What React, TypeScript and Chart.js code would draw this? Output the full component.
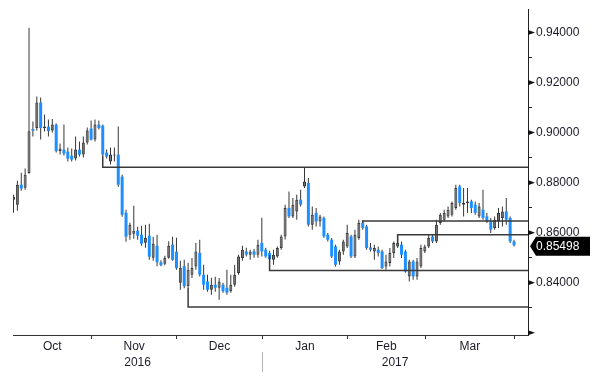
import React, { useEffect, useRef } from "react";
import { Chart, registerables } from "chart.js";

Chart.register(...registerables);

// Daily EUR/GBP-style candles, 3 Oct 2016 .. 31 Mar 2017 (weekdays)
const OPEN = [
  0.8732, 0.8712, 0.8792, 0.8780, 0.8839, 0.9014, 0.9018, 0.9120, 0.9018, 0.9024,
  0.9008, 0.9032, 0.8926, 0.8932, 0.8924, 0.8908, 0.8896, 0.8932, 0.8912, 0.8960,
  0.9016, 0.8972, 0.9032, 0.9028, 0.8920, 0.8884, 0.8908, 0.8912, 0.8824, 0.8680,
  0.8592, 0.8596, 0.8608, 0.8592, 0.8560, 0.8588, 0.8500, 0.8548, 0.8482, 0.8476,
  0.8500, 0.8552, 0.8524, 0.8400, 0.8466, 0.8386, 0.8432, 0.8465, 0.8519, 0.8432,
  0.8405, 0.8372, 0.8392, 0.8380, 0.8392, 0.8380, 0.8366, 0.8392, 0.8439, 0.8499,
  0.8525, 0.8512, 0.8525, 0.8512, 0.8559, 0.8532, 0.8519, 0.8492, 0.8505, 0.8539,
  0.8585, 0.8699, 0.8665, 0.8685, 0.8732, 0.8785, 0.8799, 0.8632, 0.8679, 0.8645,
  0.8659, 0.8592, 0.8572, 0.8545, 0.8485, 0.8525, 0.8545, 0.8585, 0.8505, 0.8579,
  0.8639, 0.8625, 0.8541, 0.8525, 0.8532, 0.8525, 0.8465, 0.8479, 0.8519, 0.8545,
  0.8552, 0.8525, 0.8425, 0.8485, 0.8425, 0.8465, 0.8525, 0.8545, 0.8585, 0.8565,
  0.8639, 0.8652, 0.8665, 0.8672, 0.8699, 0.8785, 0.8712, 0.8719, 0.8725, 0.8712,
  0.8665, 0.8692, 0.8665, 0.8645, 0.8619, 0.8645, 0.8659, 0.8685, 0.8659, 0.8565,
];
const HIGH = [
  0.8752, 0.8808, 0.8840, 0.8856, 0.9419, 0.9044, 0.9144, 0.9140, 0.9072, 0.9052,
  0.9054, 0.9036, 0.8956, 0.9032, 0.8940, 0.8936, 0.8984, 0.8964, 0.8984, 0.9020,
  0.9048, 0.9052, 0.9048, 0.9032, 0.8932, 0.8940, 0.8940, 0.9024, 0.8832, 0.8692,
  0.8640, 0.8708, 0.8624, 0.8628, 0.8632, 0.8636, 0.8584, 0.8592, 0.8490, 0.8508,
  0.8566, 0.8584, 0.8580, 0.8488, 0.8492, 0.8480, 0.8499, 0.8559, 0.8572, 0.8472,
  0.8432, 0.8420, 0.8424, 0.8419, 0.8400, 0.8452, 0.8432, 0.8472, 0.8512, 0.8548,
  0.8540, 0.8532, 0.8535, 0.8572, 0.8660, 0.8540, 0.8528, 0.8532, 0.8545, 0.8592,
  0.8712, 0.8765, 0.8739, 0.8752, 0.8772, 0.8861, 0.8819, 0.8705, 0.8699, 0.8672,
  0.8665, 0.8599, 0.8579, 0.8552, 0.8532, 0.8572, 0.8632, 0.8592, 0.8612, 0.8652,
  0.8648, 0.8632, 0.8559, 0.8552, 0.8545, 0.8532, 0.8512, 0.8539, 0.8565, 0.8588,
  0.8565, 0.8532, 0.8492, 0.8492, 0.8499, 0.8552, 0.8552, 0.8592, 0.8592, 0.8652,
  0.8679, 0.8692, 0.8705, 0.8725, 0.8792, 0.8792, 0.8779, 0.8779, 0.8732, 0.8725,
  0.8719, 0.8772, 0.8679, 0.8659, 0.8665, 0.8699, 0.8705, 0.8739, 0.8665, 0.8572,
];
const LOW = [
  0.8680, 0.8688, 0.8768, 0.8772, 0.8836, 0.8984, 0.9008, 0.8972, 0.9004, 0.8984,
  0.9000, 0.8920, 0.8912, 0.8908, 0.8884, 0.8884, 0.8888, 0.8904, 0.8900, 0.8952,
  0.8968, 0.8964, 0.9012, 0.8908, 0.8896, 0.8872, 0.8884, 0.8784, 0.8664, 0.8564,
  0.8572, 0.8576, 0.8572, 0.8548, 0.8540, 0.8492, 0.8488, 0.8466, 0.8466, 0.8470,
  0.8496, 0.8488, 0.8452, 0.8372, 0.8378, 0.8380, 0.8419, 0.8452, 0.8425, 0.8372,
  0.8364, 0.8352, 0.8364, 0.8332, 0.8360, 0.8352, 0.8360, 0.8384, 0.8432, 0.8488,
  0.8505, 0.8492, 0.8500, 0.8500, 0.8505, 0.8500, 0.8488, 0.8472, 0.8500, 0.8532,
  0.8573, 0.8659, 0.8659, 0.8652, 0.8705, 0.8779, 0.8625, 0.8612, 0.8625, 0.8625,
  0.8580, 0.8565, 0.8499, 0.8465, 0.8472, 0.8512, 0.8539, 0.8499, 0.8499, 0.8572,
  0.8612, 0.8532, 0.8525, 0.8492, 0.8505, 0.8455, 0.8452, 0.8465, 0.8499, 0.8539,
  0.8499, 0.8440, 0.8405, 0.8412, 0.8412, 0.8459, 0.8519, 0.8539, 0.8559, 0.8559,
  0.8632, 0.8645, 0.8659, 0.8665, 0.8692, 0.8705, 0.8665, 0.8679, 0.8679, 0.8672,
  0.8659, 0.8652, 0.8639, 0.8599, 0.8612, 0.8619, 0.8625, 0.8632, 0.8559, 0.8545,
];
const CLOSE = [
  0.8744, 0.8792, 0.8776, 0.8832, 0.9005, 0.9008, 0.9120, 0.9018, 0.9024, 0.9006,
  0.9032, 0.8926, 0.8936, 0.8916, 0.8896, 0.8892, 0.8932, 0.8912, 0.8960, 0.9008,
  0.8972, 0.9032, 0.9018, 0.8912, 0.8904, 0.8912, 0.8912, 0.8792, 0.8672, 0.8584,
  0.8632, 0.8608, 0.8588, 0.8556, 0.8580, 0.8504, 0.8556, 0.8482, 0.8470, 0.8500,
  0.8548, 0.8492, 0.8458, 0.8460, 0.8386, 0.8452, 0.8459, 0.8525, 0.8432, 0.8392,
  0.8372, 0.8392, 0.8380, 0.8405, 0.8366, 0.8360, 0.8392, 0.8432, 0.8505, 0.8532,
  0.8512, 0.8525, 0.8512, 0.8552, 0.8525, 0.8505, 0.8494, 0.8512, 0.8539, 0.8585,
  0.8699, 0.8665, 0.8712, 0.8732, 0.8712, 0.8805, 0.8632, 0.8672, 0.8645, 0.8665,
  0.8585, 0.8572, 0.8505, 0.8472, 0.8525, 0.8565, 0.8599, 0.8505, 0.8592, 0.8639,
  0.8619, 0.8539, 0.8532, 0.8539, 0.8519, 0.8459, 0.8485, 0.8519, 0.8559, 0.8559,
  0.8512, 0.8445, 0.8485, 0.8425, 0.8485, 0.8539, 0.8545, 0.8579, 0.8565, 0.8632,
  0.8672, 0.8679, 0.8692, 0.8719, 0.8779, 0.8719, 0.8719, 0.8725, 0.8699, 0.8679,
  0.8705, 0.8659, 0.8645, 0.8612, 0.8652, 0.8679, 0.8685, 0.8652, 0.8565, 0.85498,
];

const MONTHS = ["Oct", "Nov", "Dec", "Jan", "Feb", "Mar"];
const MONTH_FIRST_BAR = [0, 21, 43, 65, 87, 107, 130];
const YEARS = ["2016", "2017"];
const YEAR_FIRST_BAR = [0, 65];
const Y_TICKS = [0.82, 0.83, 0.84, 0.85, 0.86, 0.87, 0.88, 0.89, 0.9, 0.91, 0.92, 0.93, 0.94];
const Y_MAJOR = [0.82, 0.84, 0.86, 0.88, 0.9, 0.92, 0.94];
const Y_LABELLED = [0.84, 0.86, 0.88, 0.9, 0.92, 0.94];
const LEVELS = [0.8861, 0.8303, 0.8449, 0.8647, 0.8592];
const LEVEL_FROM_BAR = [23, 45, 66, 90, 99];
const LEVEL_ANCHOR = [0.8908, 0.838, 0.8511, 0.8639, 0.8559];
const LAST_PRICE = 0.85498;

const X_MIN = -0.13;
const X_MAX = 132.6;
const Y_MIN = 0.8191;
const Y_MAX = 0.9494;
const BOUNDARY_SHIFT = -0.9;
const FONT = "'Liberation Sans', Arial, sans-serif";
const TEXT = "#1c1c28";
const BLUE = "#1e8fff";
const GRAY = "#767676";
const DARK = "#363636";

const boundary = (bar: number) => bar + BOUNDARY_SHIFT;

type XT = { value: number; label: string; mark: boolean };

const monthTicks: XT[] = [];
for (let k = 1; k < MONTH_FIRST_BAR.length; k++) {
  monthTicks.push({ value: boundary(MONTH_FIRST_BAR[k]), label: "", mark: true });
}
MONTHS.forEach((m, k) => {
  const a = k === 0 ? X_MIN : boundary(MONTH_FIRST_BAR[k]);
  const b = boundary(MONTH_FIRST_BAR[k + 1]);
  monthTicks.push({ value: (a + b) / 2, label: m, mark: false });
});
monthTicks.sort((p, q) => p.value - q.value);

const yearTicks: XT[] = [];
YEARS.forEach((yr, k) => {
  const a = k === 0 ? X_MIN : boundary(YEAR_FIRST_BAR[k]);
  const b = k === YEARS.length - 1 ? X_MAX : boundary(YEAR_FIRST_BAR[k + 1]);
  yearTicks.push({ value: (a + b) / 2, label: yr, mark: false });
  if (k > 0) yearTicks.push({ value: a, label: "", mark: true });
});
yearTicks.sort((p, q) => p.value - q.value);

const axisDecor = {
  id: "axisDecor",
  afterDraw(chart: any) {
    const { ctx, chartArea } = chart;
    const y = chart.scales.y;
    const r = chartArea.right;
    ctx.save();
    ctx.fillStyle = "#111";
    Y_MAJOR.forEach((v) => {
      const py = y.getPixelForValue(v);
      ctx.beginPath();
      ctx.moveTo(r, py - 2.6);
      ctx.lineTo(r + 7, py);
      ctx.lineTo(r, py + 2.6);
      ctx.closePath();
      ctx.fill();
    });
    const py = y.getPixelForValue(LAST_PRICE);
    ctx.fillStyle = "#000";
    ctx.beginPath();
    ctx.moveTo(r + 2, py + 1);
    ctx.lineTo(r + 8, py - 8.5);
    ctx.lineTo(r + 62, py - 8.5);
    ctx.lineTo(r + 62, py + 10.5);
    ctx.lineTo(r + 8, py + 10.5);
    ctx.closePath();
    ctx.fill();
    ctx.fillStyle = "#fff";
    ctx.font = `12px ${FONT}`;
    ctx.textBaseline = "middle";
    ctx.textAlign = "left";
    ctx.fillText(LAST_PRICE.toFixed(5), r + 8, py + 1.5);
    ctx.restore();
  },
};

export default function App() {
  const ref = useRef<HTMLCanvasElement>(null);

  useEffect(() => {
    const up = CLOSE.map((c, i) => c >= OPEN[i]);
    const wickData = CLOSE.map((_, i) => ({ x: i, y: [LOW[i], HIGH[i]] }));
    const bodyData = CLOSE.map((c, i) => ({
      x: i,
      y: [Math.min(OPEN[i], c), Math.max(OPEN[i], c)],
    }));
    const levelSets = LEVELS.map((lv, k) => ({
      type: "line" as const,
      data: [
        { x: LEVEL_FROM_BAR[k], y: LEVEL_ANCHOR[k] },
        { x: LEVEL_FROM_BAR[k], y: lv },
        { x: X_MAX, y: lv },
      ],
      borderColor: "#3a3a3a",
      borderWidth: 1.5,
      pointRadius: 0,
      tension: 0,
      fill: false,
      order: 0,
    }));

    const chart = new Chart(ref.current as HTMLCanvasElement, {
      type: "bar",
      data: {
        datasets: [
          ...levelSets,
          {
            type: "bar",
            data: bodyData as any,
            backgroundColor: up.map((u) => (u ? GRAY : BLUE)),
            borderColor: up.map((u) => (u ? DARK : BLUE)),
            borderWidth: up.map((u) => (u ? 1 : 0)),
            borderSkipped: false,
            barThickness: 3,
            minBarLength: 1,
            grouped: false,
            inflateAmount: 0,
            order: 1,
          },
          {
            type: "bar",
            data: wickData as any,
            backgroundColor: DARK,
            borderWidth: 0,
            barThickness: 1,
            grouped: false,
            inflateAmount: 0,
            order: 2,
          },
        ] as any,
      },
      options: {
        responsive: false,
        animation: false,
        devicePixelRatio: 1,
        layout: { padding: { left: 13, top: 9, right: 0, bottom: 0 } },
        plugins: { legend: { display: false }, tooltip: { enabled: false } },
        scales: {
          x: {
            type: "linear",
            position: "bottom",
            min: X_MIN,
            max: X_MAX,
            offset: false,
            weight: 0,
            afterBuildTicks: (s: any) => {
              s.ticks = monthTicks.map((t) => ({ value: t.value }));
            },
            afterFit: (s: any) => {
              s.height = 17;
              s.paddingLeft = 0;
              s.paddingRight = 0;
            },
            ticks: {
              autoSkip: false,
              maxRotation: 0,
              minRotation: 0,
              padding: 0,
              color: TEXT,
              font: { family: FONT, size: 12 },
              callback: (_v: any, i: number) => monthTicks[i].label,
            },
            grid: {
              display: true,
              drawOnChartArea: false,
              drawTicks: true,
              tickLength: 4,
              offset: false,
              lineWidth: 1,
              color: (c: any) => (monthTicks[c.index] && monthTicks[c.index].mark ? "#333" : "rgba(0,0,0,0)"),
            },
            border: { display: true, color: "#333", width: 1 },
          },
          x2: {
            type: "linear",
            axis: "x",
            position: "bottom",
            min: X_MIN,
            max: X_MAX,
            offset: false,
            weight: 1,
            afterBuildTicks: (s: any) => {
              s.ticks = yearTicks.map((t) => ({ value: t.value }));
            },
            afterFit: (s: any) => {
              s.height = 29;
              s.paddingLeft = 0;
              s.paddingRight = 0;
            },
            ticks: {
              autoSkip: false,
              maxRotation: 0,
              minRotation: 0,
              padding: -16.2,
              color: TEXT,
              font: { family: FONT, size: 12 },
              callback: (_v: any, i: number) => yearTicks[i].label,
            },
            grid: {
              display: true,
              drawOnChartArea: false,
              drawTicks: true,
              tickLength: 20,
              offset: false,
              lineWidth: 1,
              color: (c: any) => (yearTicks[c.index] && yearTicks[c.index].mark ? "#b4b4b4" : "rgba(0,0,0,0)"),
            },
            border: { display: false },
          },
          y: {
            type: "linear",
            position: "right",
            min: Y_MIN,
            max: Y_MAX,
            afterBuildTicks: (s: any) => {
              s.ticks = Y_TICKS.map((v) => ({ value: v }));
            },
            afterFit: (s: any) => {
              s.width = 72;
              s.paddingTop = 0;
              s.paddingBottom = 0;
            },
            ticks: {
              autoSkip: false,
              padding: 4,
              color: TEXT,
              font: { family: FONT, size: 12 },
              callback: (v: any) =>
                Y_LABELLED.some((m) => Math.abs(m - Number(v)) < 1e-6) ? Number(v).toFixed(5) : "",
            },
            grid: {
              display: true,
              drawOnChartArea: false,
              drawTicks: true,
              tickLength: 4,
              color: "#222",
              lineWidth: 1,
            },
            border: { display: true, color: "#222", width: 1 },
          },
        },
      } as any,
      plugins: [axisDecor],
    });
    return () => chart.destroy();
  }, []);

  return (
    <div style={{ position: "fixed", left: 0, top: 0, width: 600, height: 381, background: "#fff" }}>
      <canvas ref={ref} width={600} height={381} style={{ display: "block", width: 600, height: 381 }} />
    </div>
  );
}
